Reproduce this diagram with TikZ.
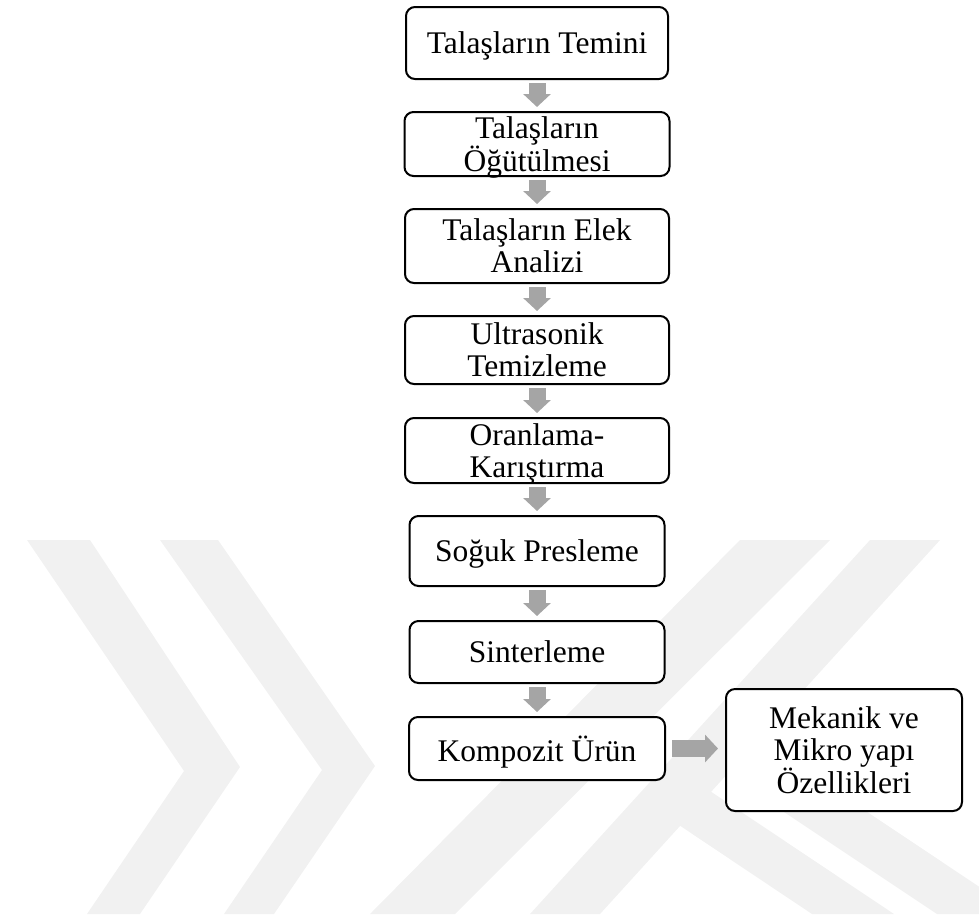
\documentclass[tikz,border=0pt]{standalone}
\usepackage{fontspec}
\setmainfont{Liberation Serif}
\usetikzlibrary{arrows.meta, positioning}
\definecolor{arrowgray}{RGB}{165,165,165}
\definecolor{markgray}{RGB}{241,241,241}

\begin{document}
\begin{tikzpicture}[x=1pt, y=-1pt, font=\fontsize{31.5}{32}\selectfont]
    \tikzstyle{stage}=[draw=black, fill=white, line width=2pt, rounded corners=9pt, align=center, inner sep=0pt, text depth=0pt]
    \tikzstyle{flow}=[draw=arrowgray, line width=17pt, -{Triangle[width=27pt, length=13pt]}]
    \tikzstyle{watermark}=[fill=markgray]

    \useasboundingbox (0,0) rectangle (979,914);

    % background stripes
    \begin{scope}
        \clip (0,0) rectangle (979,914);
        \path[watermark] (27,540) -- (90,540) -- (240,767) -- (140,914) -- (87,914) -- (184,771) -- cycle;
        \path[watermark] (160,540) -- (218,540) -- (375,766) -- (274,914) -- (224,914) -- (322,770) -- cycle;
        \path[watermark] (370,914) -- (455,914) -- (830,540) -- (740,540) -- cycle;
        \path[watermark] (530,914) -- (600,914) -- (940,540) -- (870,540) -- cycle;
        \path[watermark] (812,914) -- (894,914) -- (689,777) -- (658,811) -- cycle;
        \path[watermark] (937,914) -- (1020,914) -- (737,725) -- (706,760) -- cycle;
    \end{scope}

    \node[stage, minimum width=262pt, minimum height=72pt] (S-1) at (537,43) {Talaşların Temini};
    \node[stage, minimum width=265pt, minimum height=64pt] (S-2) at (537,144) {Talaşların\\Öğütülmesi};
    \node[stage, minimum width=264pt, minimum height=74pt] (S-3) at (537,246) {Talaşların Elek\\Analizi};
    \node[stage, minimum width=264pt, minimum height=68pt] (S-4) at (537,350) {Ultrasonik\\Temizleme};
    \node[stage, minimum width=264pt, minimum height=65pt] (S-5) at (537,450.5) {Oranlama-\\Karıştırma};
    \node[stage, minimum width=255pt, minimum height=70pt] (S-6) at (537,551) {Soğuk Presleme};
    \node[stage, minimum width=255pt, minimum height=62pt] (S-7) at (537,652) {Sinterleme};
    \node[stage, minimum width=256pt, minimum height=63pt] (S-8) at (537,748.5) {Kompozit Ürün};
    \node[stage, minimum width=236pt, minimum height=122pt] (M) at (844,750) {Mekanik ve\\Mikro yapı\\Özellikleri};

    \foreach \i [count=\j from 2] in {1,...,7}
        \draw[flow, shorten <=3pt, shorten >=4pt] (S-\i.south) -- (S-\j.north);
    \draw[flow, shorten <=6pt, shorten >=7pt] (S-8.east) -- (S-8.east -| M.west);
\end{tikzpicture}
\end{document}
